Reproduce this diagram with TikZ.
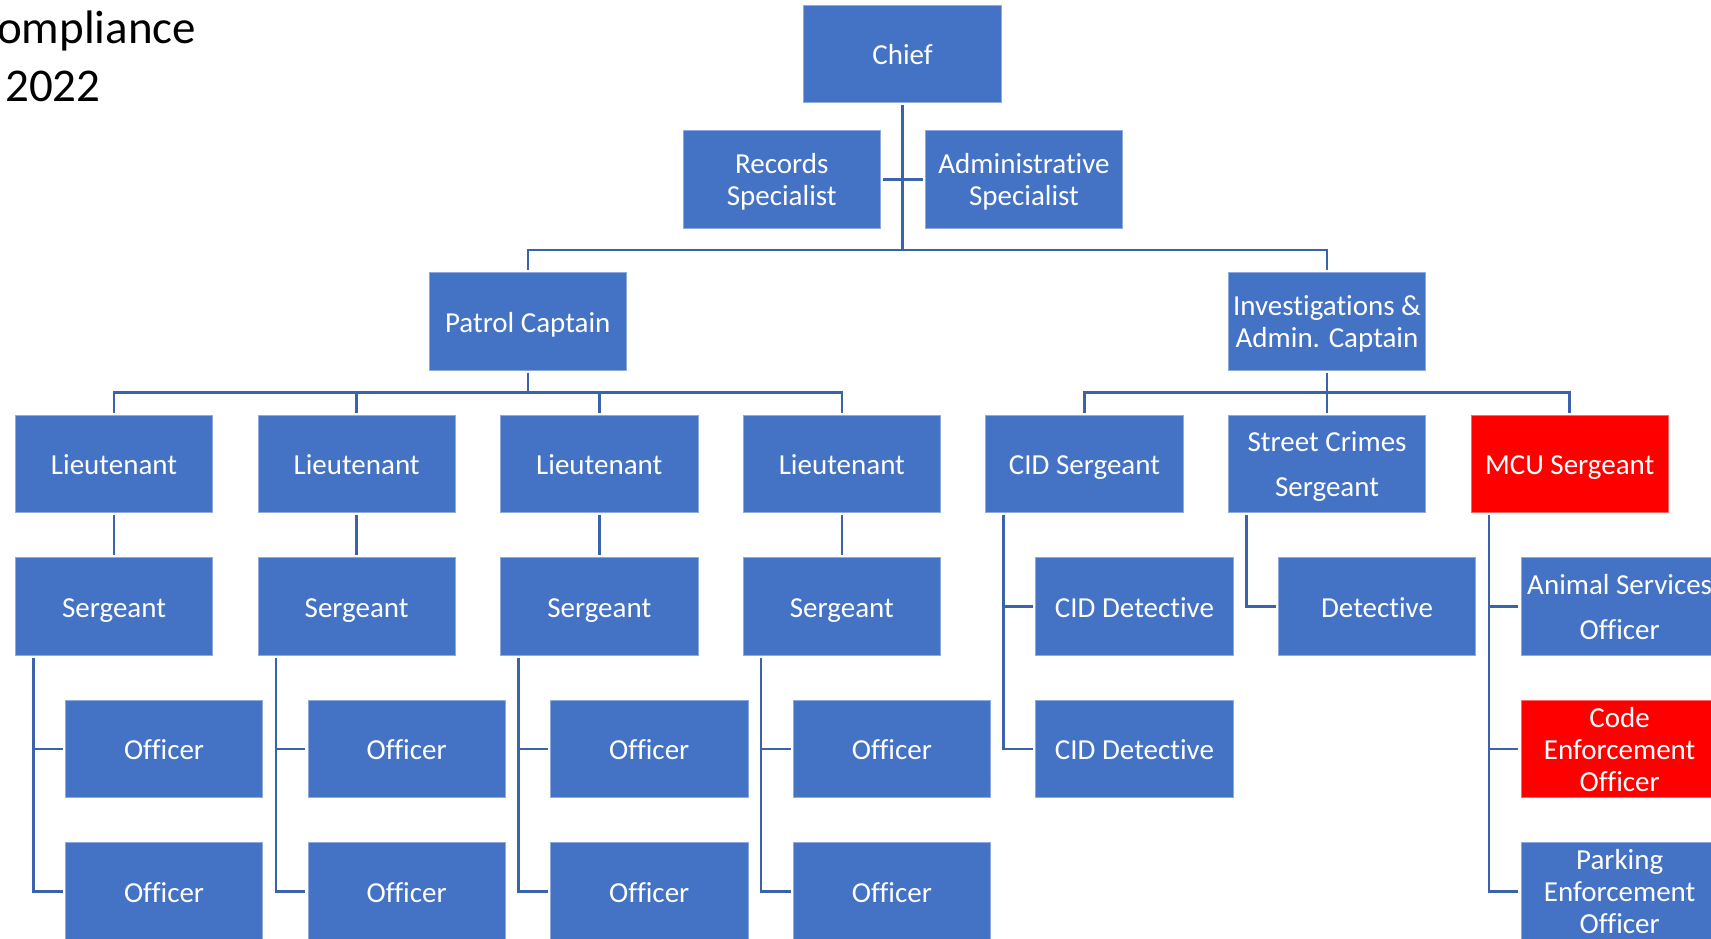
\documentclass[tikz,border=0pt]{standalone}
\usepackage{fontspec}
\setmainfont{Carlito}[Ligatures=NoCommon]
\definecolor{boxblue}{HTML}{4472C4}
\definecolor{boxedge}{HTML}{8EA9DB}
\definecolor{linkblue}{HTML}{3B63AC}
\definecolor{alertred}{HTML}{FF0000}
\newcommand\vstrut{\rule[-0.21em]{0pt}{1.164em}}
\newcommand\firstline{\rule{0pt}{0.93em}}
\tikzset{
  orgbox/.style={rectangle, fill=boxblue, draw=boxedge, line width=0.8pt,
    minimum width=197.5pt, minimum height=97.5pt, inner sep=0pt, outer sep=2.5pt,
    xshift=-2.5pt, yshift=2.5pt,
    text=white, font=\fontsize{29}{32}\selectfont, align=center, anchor=north west,
    execute at begin node=\vstrut, execute at end node=\vstrut},
  redbox/.style={orgbox, fill=alertred, draw=alertred!60!white},
  widelines/.style={font=\fontsize{29}{45}\selectfont},
  link/.style={draw=linkblue, line width=2.5pt},
  titletext/.style={anchor=base west, inner sep=0pt, text=black, font=\fontsize{47}{50}\selectfont}
}
\begin{document}
\begin{tikzpicture}[x=1pt,y=-1pt]
\useasboundingbox (0,0) rectangle (1711,939);
\fill[white] (0,0) rectangle (1711,939);
\clip (0,0) rectangle (1711,939);

% title fragments
\node[titletext] (t1) at (-3,43.3) {ompliance};
\node[titletext] (t2) at (5,101.7) {2022};

% top
\node[orgbox] (chief) at (803.75,5.3) {Chief};
\node[orgbox] (rec) at (683,130.7) {\firstline Records\\Specialist};
\node[orgbox] (adm) at (925.3,130.7) {\firstline Administrative\\Specialist};
\node[orgbox] (pc) at (429,272.7) {Patrol Captain};
\node[orgbox] (inv) at (1228.3,272.7) {\firstline Investigations \&\\Admin. Captain};

% row 3
\node[orgbox] (l1) at (15.3,415) {Lieutenant};
\node[orgbox] (l2) at (257.9,415) {Lieutenant};
\node[orgbox] (l3) at (500.5,415) {Lieutenant};
\node[orgbox] (l4) at (743.1,415) {Lieutenant};
\node[orgbox] (cid) at (985.7,415) {CID Sergeant};
\node[orgbox,widelines] (sc) at (1228.3,415) {\firstline Street Crimes\\Sergeant};
\node[redbox] (mcu) at (1470.9,415) {MCU Sergeant};

% row 4
\node[orgbox] (s1) at (15.3,557.5) {Sergeant};
\node[orgbox] (s2) at (257.9,557.5) {Sergeant};
\node[orgbox] (s3) at (500.5,557.5) {Sergeant};
\node[orgbox] (s4) at (743.1,557.5) {Sergeant};
\node[orgbox] (cd1) at (1035.7,557.5) {CID Detective};
\node[orgbox] (det) at (1278.3,557.5) {Detective};
\node[orgbox,widelines] (aso) at (1520.9,557.5) {\firstline Animal Services\\Officer};

% row 5
\node[orgbox] (o1a) at (65.3,700) {Officer};
\node[orgbox] (o2a) at (307.9,700) {Officer};
\node[orgbox] (o3a) at (550.5,700) {Officer};
\node[orgbox] (o4a) at (793.1,700) {Officer};
\node[orgbox] (cd2) at (1035.7,700) {CID Detective};
\node[redbox] (ceo) at (1520.9,700) {\firstline Code\\Enforcement\\Officer};

% row 6
\node[orgbox] (o1b) at (65.3,842.5) {Officer};
\node[orgbox] (o2b) at (307.9,842.5) {Officer};
\node[orgbox] (o3b) at (550.5,842.5) {Officer};
\node[orgbox] (o4b) at (793.1,842.5) {Officer};
\node[orgbox] (peo) at (1520.9,842.5) {\firstline Parking\\Enforcement\\Officer};

% connectors: top
\coordinate (bus1) at (0,250);
\coordinate (bus2) at (0,392.7);
\draw[link] (chief.south) -- (chief.south |- bus1);
\draw[link] (rec.east) -- (adm.west);
\draw[link] (pc.north) -- (pc.north |- bus1) -- (inv.north |- bus1) -- (inv.north);

% patrol
\draw[link] (pc.south) -- (pc.south |- bus2);
\draw[link] (l1.north) -- (l1.north |- bus2) -- (l4.north |- bus2) -- (l4.north);
\draw[link] (l2.north) -- (l2.north |- bus2);
\draw[link] (l3.north) -- (l3.north |- bus2);

% investigations
\draw[link] (inv.south) -- (inv.south |- bus2);
\draw[link] (cid.north) -- (cid.north |- bus2) -- (mcu.north |- bus2) -- (mcu.north);
\draw[link] (sc.north) -- (sc.north |- bus2);

% lieutenant to sergeant
\draw[link] (l1.south) -- (s1.north);
\draw[link] (l2.south) -- (s2.north);
\draw[link] (l3.south) -- (s3.north);
\draw[link] (l4.south) -- (s4.north);

% sergeants to officers
\foreach \s/\a/\b in {s1/o1a/o1b, s2/o2a/o2b, s3/o3a/o3b, s4/o4a/o4b}{
  \draw[link] ([xshift=20.5pt]\s.south west) coordinate (v\s) |- (\b.west);
  \draw[link] (\a.west) -- (\a.west -| v\s);
}
\draw[link] ([xshift=20.5pt]cid.south west) coordinate (vcid) |- (cd2.west);
\draw[link] (cd1.west) -- (cd1.west -| vcid);
\draw[link] ([xshift=20.5pt]sc.south west) |- (det.west);
\draw[link] ([xshift=20.5pt]mcu.south west) coordinate (vmcu) |- (peo.west);
\draw[link] (aso.west) -- (aso.west -| vmcu);
\draw[link] (ceo.west) -- (ceo.west -| vmcu);
\end{tikzpicture}
\end{document}
